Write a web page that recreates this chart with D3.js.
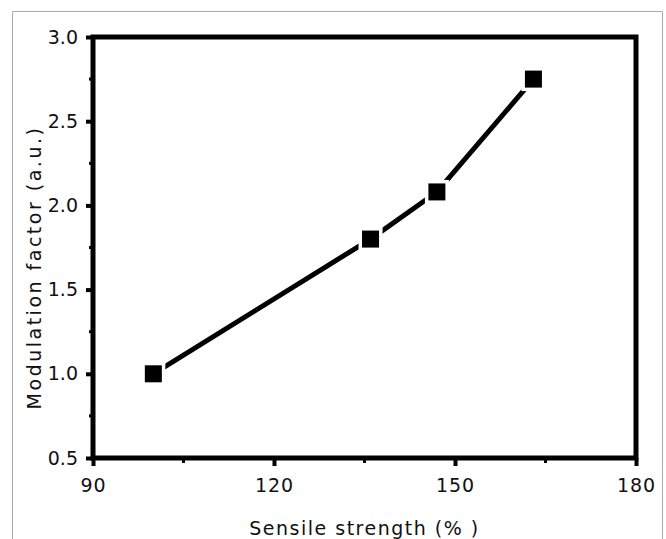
<!DOCTYPE html>
<html>
<head>
<meta charset="utf-8" />
<script src="https://d3js.org/d3.v7.min.js"></script>
<style>
  body { margin: 0; background: #fff; }
  text { font-family: "DejaVu Sans", sans-serif; fill: #111; }
</style>
</head>
<body>
<div id="chart"></div>
<script>
// data
var strength = [100, 136, 147, 163];
var modulation = [1.0, 1.8, 2.08, 2.75];
var xTicks = [90, 120, 150, 180];
var yTicks = [0.5, 1.0, 1.5, 2.0, 2.5, 3.0];
var xMinor = [105, 135, 165];
var yMinor = [0.75, 1.25, 1.75, 2.25, 2.75];

var W = 666, H = 539;
var margin = {top: 37, right: 30, bottom: 81, left: 93},
    width = W - margin.left - margin.right,
    height = H - margin.top - margin.bottom;

var svg = d3.select("#chart").append("svg")
  .attr("width", W).attr("height", H);

// light grey frame round the figure
svg.append("path")
  .attr("d", "M12.5," + H + "V11.5H662.5V" + H)
  .attr("fill", "none").attr("stroke", "#aaa").attr("stroke-width", 1);

var g = svg.append("g")
  .attr("transform", "translate(" + margin.left + "," + margin.top + ")");

var x = d3.scaleLinear().domain([90, 180]).range([0, width]);
var y = d3.scaleLinear().domain([0.5, 3.0]).range([height, 0]);

// x axis
var xAxis = g.append("g")
  .attr("transform", "translate(0," + height + ")")
  .call(d3.axisBottom(x).tickValues(xTicks).tickFormat(d3.format("d")).tickSize(8).tickPadding(13));
xAxis.select(".domain").remove();
xAxis.selectAll("line").attr("stroke", "#000").attr("stroke-width", 4);
xAxis.selectAll("text").attr("font-size", 19).attr("letter-spacing", 1);

g.selectAll(".xminor").data(xMinor).enter().append("line")
  .attr("x1", d => x(d)).attr("x2", d => x(d))
  .attr("y1", height).attr("y2", height + 5)
  .attr("stroke", "#000").attr("stroke-width", 3);

// y axis
var yAxis = g.append("g")
  .call(d3.axisLeft(y).tickValues(yTicks).tickFormat(d3.format(".1f")).tickSize(7).tickPadding(8));
yAxis.select(".domain").remove();
yAxis.selectAll("line").attr("stroke", "#000").attr("stroke-width", 4);
yAxis.selectAll("text").attr("font-size", 19);

g.selectAll(".yminor").data(yMinor).enter().append("line")
  .attr("x1", -4).attr("x2", 0)
  .attr("y1", d => y(d)).attr("y2", d => y(d))
  .attr("stroke", "#000").attr("stroke-width", 3);

// frame
g.append("rect")
  .attr("width", width).attr("height", height)
  .attr("fill", "none").attr("stroke", "#000").attr("stroke-width", 5);

// line
var pts = strength.map((s, i) => [s, modulation[i]]);
g.append("path")
  .datum(pts)
  .attr("fill", "none").attr("stroke", "#000").attr("stroke-width", 5)
  .attr("d", d3.line().x(d => x(d[0])).y(d => y(d[1])));

// markers
var sz = 17;
g.selectAll(".pt").data(pts).enter().append("rect")
  .attr("x", d => x(d[0]) - sz / 2).attr("y", d => y(d[1]) - sz / 2)
  .attr("width", sz).attr("height", sz)
  .attr("fill", "#000").attr("stroke", "#fff").attr("stroke-width", 7)
  .attr("paint-order", "stroke");

// axis titles
svg.append("text")
  .attr("x", margin.left + width / 2).attr("y", 535)
  .attr("text-anchor", "middle").attr("font-size", 19).attr("letter-spacing", 1.5)
  .text("Sensile strength (% )");

svg.append("text")
  .attr("transform", "translate(41," + (margin.top + height / 2 + 20) + ") rotate(-90)")
  .attr("text-anchor", "middle").attr("font-size", 19).attr("letter-spacing", 2.5)
  .text("Modulation factor (a.u.)");
</script>
</body>
</html>
